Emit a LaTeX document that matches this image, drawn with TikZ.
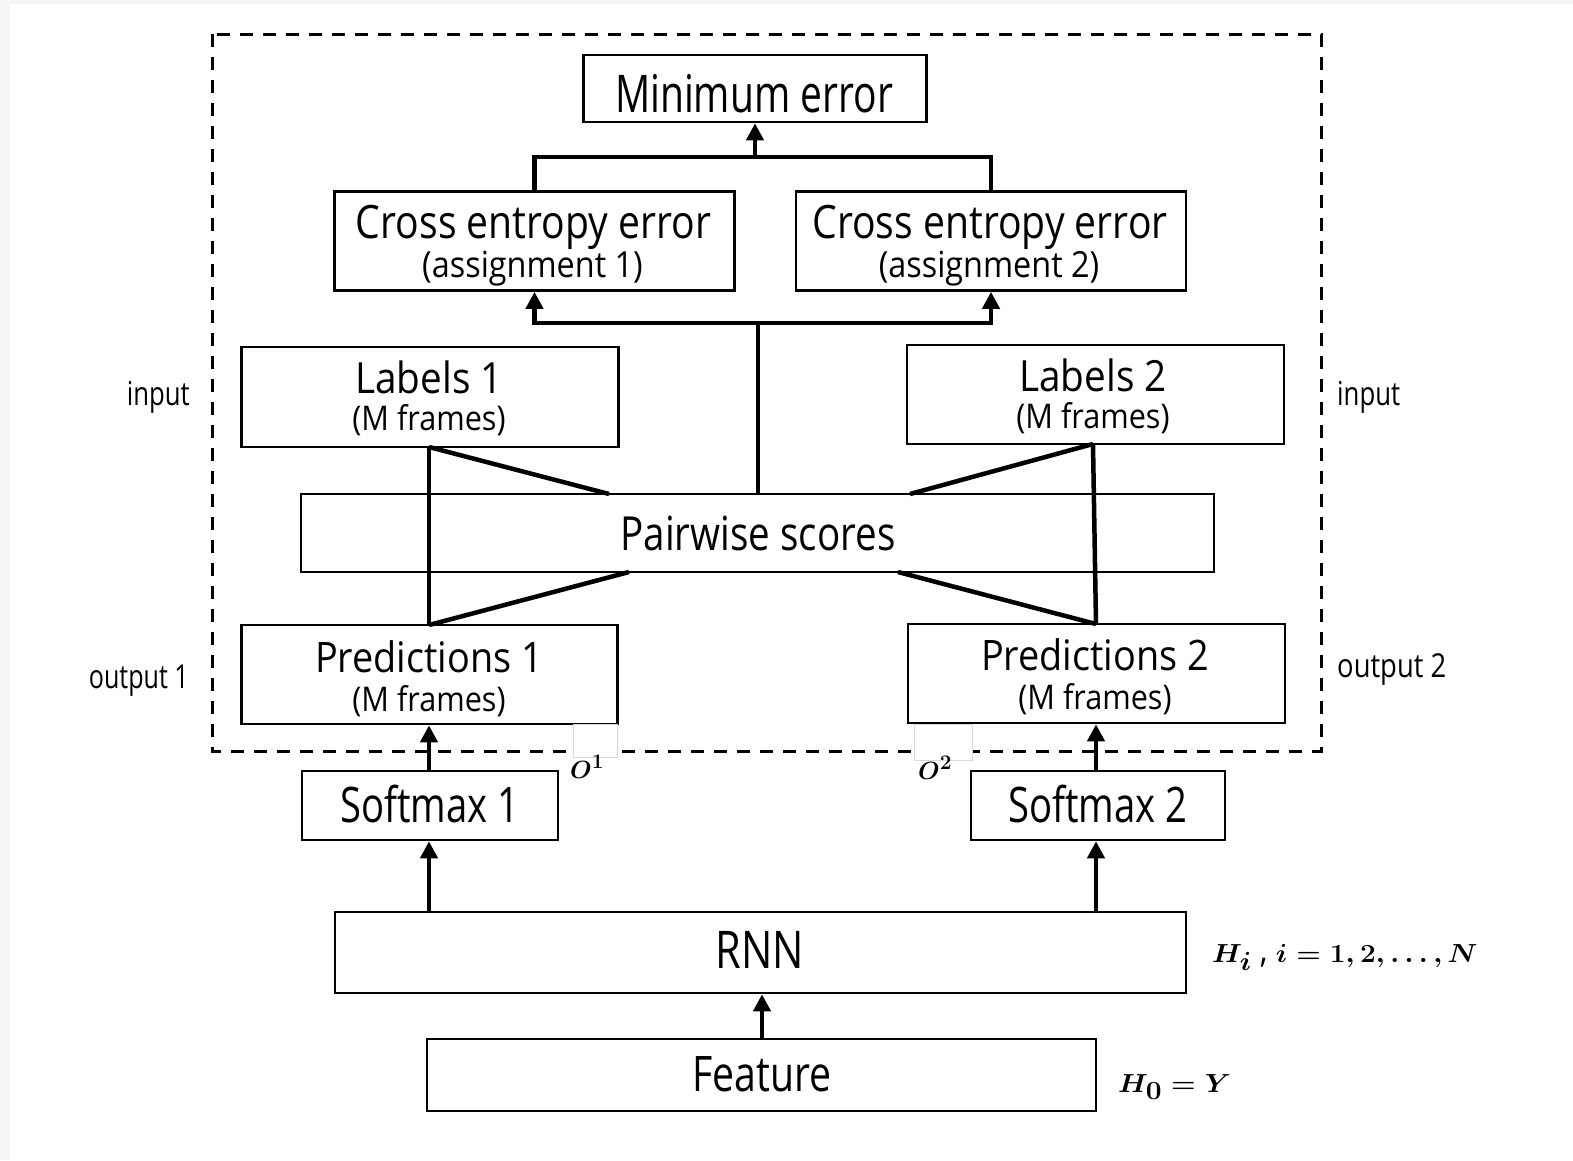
\documentclass[tikz,border=0pt]{standalone}
\usepackage[no-math]{fontspec}
\usepackage{graphicx}
\setmainfont{Open Sans}[FakeStretch=0.8]
\usetikzlibrary{arrows.meta}
\newcommand{\ft}[2]{\fontspec{Open Sans}[FakeStretch=#2]\fontsize{#1}{#1}\selectfont}
\newcommand{\hilabel}{\scalebox{1.13}[1.05]{\boldmath$H_i$\ ,\ $i=1,2,\ldots,N$}}
\newcommand{\hzlabel}{\scalebox{1.13}[1.05]{\boldmath$H_0=Y$}}
\newcommand{\olabel}[1]{\mbox{\boldmath$O^{#1}$}}
\begin{document}
\begin{tikzpicture}[x=1pt,y=-1pt,
  box/.style={draw, line width=2.6pt, inner sep=0pt},
  txt/.style={anchor=base, inner sep=0pt},
  conn/.style={line width=4.5pt},
  arr/.style={line width=4.5pt, -{Triangle[length=17pt,width=17pt]}},
  gap/.style={fill=white, draw=black!15, line width=1pt},
  side/.style={inner sep=0pt}]
\fill[black!4] (0,0) rectangle (1573,1160);
\fill[white] (10,4) rectangle (1573,1160);
\useasboundingbox (0,0) rectangle (1573,1160);

% dashed frame
\draw[line width=3pt, dash pattern=on 13pt off 10pt] (212,34) rectangle (1321,751);

% boxes
\node[box, minimum width=343pt, minimum height=67pt] (minerr) at (755,88.5) {};
\node[box, minimum width=400pt, minimum height=99pt] (ce1) at (534.5,241) {};
\node[box, minimum width=390pt, minimum height=99pt] (ce2) at (991,241) {};
\node[box, minimum width=377pt, minimum height=100pt] (lab1) at (430,397) {};
\node[box, minimum width=377pt, minimum height=99pt] (lab2) at (1095.5,394.5) {};
\node[box, minimum width=913pt, minimum height=78pt] (pair) at (757.5,533) {};
\node[box, minimum width=376pt, minimum height=99pt] (pred1) at (429.5,674.5) {};
\node[box, minimum width=377pt, minimum height=99pt] (pred2) at (1096.5,673.5) {};
\node[box, minimum width=256pt, minimum height=69pt] (sm1) at (430,805.5) {};
\node[box, minimum width=254pt, minimum height=69pt] (sm2) at (1098,805.5) {};
\node[box, minimum width=851pt, minimum height=81pt] (rnn) at (760.5,952.5) {};
\node[box, minimum width=669pt, minimum height=72pt] (feat) at (761.5,1075) {};

% texts
\node[txt] (tminerr) at (754,112) {\ft{52}{0.75}Minimum error};
\node[txt] (tce1a) at (533.5,238) {\ft{46}{0.85}Cross entropy error};
\node[txt] (tce1b) at (532.5,277) {\ft{36}{0.9}(assignment 1)};
\node[txt] (tce2a) at (990,238) {\ft{46}{0.85}Cross entropy error};
\node[txt] (tce2b) at (989,277) {\ft{36}{0.9}(assignment 2)};
\node[txt] (tlab1a) at (429,393) {\ft{43}{0.9}Labels 1};
\node[txt] (tlab1b) at (429,430) {\ft{34}{0.9}(M frames)};
\node[txt] (tlab2a) at (1093,391) {\ft{43}{0.9}Labels 2};
\node[txt] (tlab2b) at (1093,428) {\ft{34}{0.9}(M frames)};
\node[txt] (tpair) at (758,550) {\ft{47}{0.82}Pairwise scores};
\node[txt] (tpred1a) at (429,672) {\ft{42}{0.9}Predictions 1};
\node[txt] (tpred1b) at (429,711) {\ft{34}{0.9}(M frames)};
\node[txt] (tpred2a) at (1095,670) {\ft{42}{0.9}Predictions 2};
\node[txt] (tpred2b) at (1095,709) {\ft{34}{0.9}(M frames)};
\node[txt] (tsm1) at (430,822) {\ft{49}{0.78}Softmax 1};
\node[txt] (tsm2) at (1098,822) {\ft{49}{0.78}Softmax 2};
\node[txt] (trnn) at (760,968) {\ft{52}{0.8}RNN};
\node[txt] (tfeat) at (762,1091) {\ft{49}{0.8}Feature};

% side labels
\node[side, anchor=base east] (in1) at (190,405) {\ft{33}{0.78}input};
\node[side, anchor=base west] (in2) at (1337,405) {\ft{33}{0.78}input};
\node[side, anchor=base east] (out1) at (189,688) {\ft{33}{0.76}output 1};
\node[side, anchor=base west] (out2) at (1337,677) {\ft{33}{0.83}output 2};
\node[side, anchor=base west] (hlab) at (1212,962) {\fontsize{35}{35}\selectfont\hilabel};
\node[side, anchor=base west] (hzero) at (1118,1092) {\fontsize{35}{35}\selectfont\hzlabel};

% named points
\coordinate (jt) at (755,157);
\coordinate (jp) at (758,323);
\coordinate (l1) at (429,447);
\coordinate (p1) at (429,625);
\coordinate (l2) at (1093,444);
\coordinate (p2) at (1096,624);
\coordinate (pt1) at (609,494);
\coordinate (pb1) at (629,572);
\coordinate (pt2) at (910,494);
\coordinate (pb2) at (898,572);

% connectors top
\draw[conn] (ce1.north) |- (jt) -| (ce2.north);
\draw[arr] (jt) -- (minerr.south -| jt);
\draw[conn] (pair.north -| jp) -- (jp);
\draw[arr] (jp) -| (ce1.south);
\draw[arr] (jp) -| (ce2.south);

% label/prediction connections
\draw[conn] (l1) -- (p1);
\draw[conn] (l1) -- (pt1);
\draw[conn] (p1) -- (pb1);
\draw[conn] (l2) -- (p2);
\draw[conn] (l2) -- (pt2);
\draw[conn] (p2) -- (pb2);

% gaps with O labels
\draw[gap] (573,724) rectangle (617,757);
\draw[gap] (914,724) rectangle (972,760);
\node[side, anchor=base west] (o1) at (570,778) {\fontsize{32}{32}\selectfont\olabel{1}};
\node[side, anchor=base west] (o2) at (918,779) {\fontsize{32}{32}\selectfont\olabel{2}};

% lower arrows
\draw[arr] (sm1.north -| p1) -- (pred1.south -| p1);
\draw[arr] (sm2.north -| p2) -- (pred2.south -| p2);
\draw[arr] (rnn.north -| p1) -- (sm1.south -| p1);
\draw[arr] (rnn.north -| p2) -- (sm2.south -| p2);
\coordinate (fx) at (762,1039);
\draw[arr] (feat.north -| fx) -- (rnn.south -| fx);
\end{tikzpicture}
\end{document}
